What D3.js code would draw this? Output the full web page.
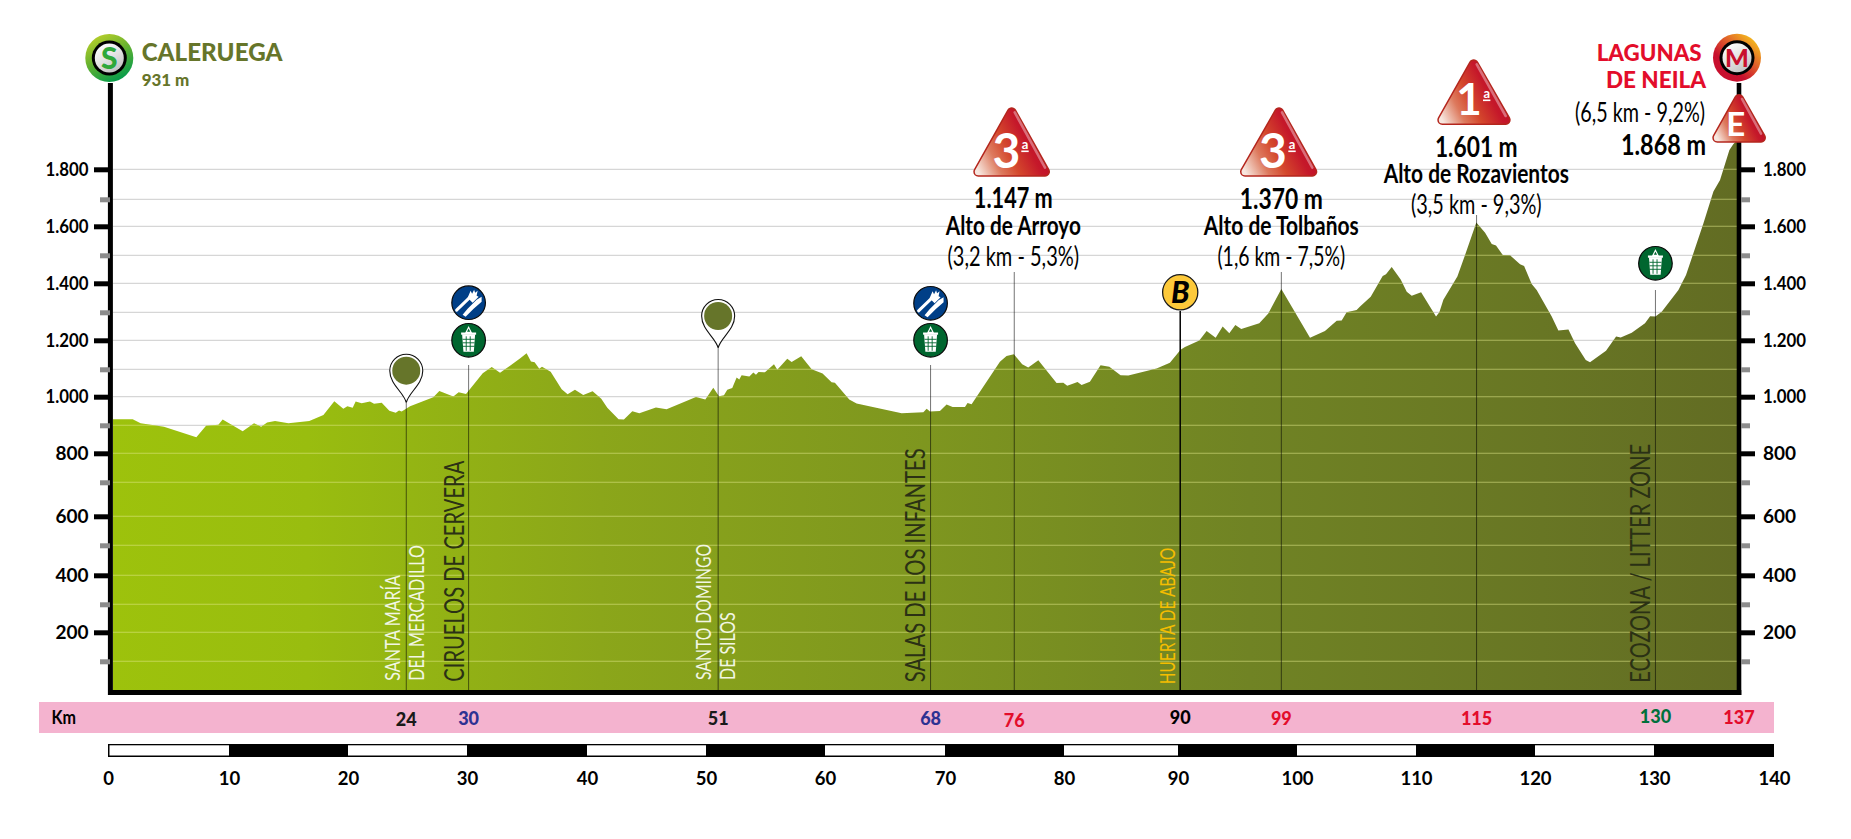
<!DOCTYPE html>
<html><head><meta charset="utf-8">
<script src="https://cdn.jsdelivr.net/npm/d3@7/dist/d3.min.js"></script>
<style>html,body{margin:0;padding:0;background:#fff}svg{display:block}
text{font-family:Lato,"Open Sans",sans-serif}</style></head><body>
<svg id="c" width="1851" height="839"></svg>
<script>
// ---------- data ----------
const distanceKm=[0,1.66,2.33,4.3,7.03,7.85,8.89,9.25,10.94,11.9,12.5,13,13.67,14.8,16.56,17.75,18.67,19.43,19.77,20.22,20.47,20.98,21.68,22.02,22.67,23.31,23.85,24.13,24.35,25.06,27.02,27.53,28.71,29.16,29.78,31.19,31.95,32.65,34.33,34.89,35.26,35.57,35.96,36.19,36.92,37.85,38.35,38.97,39.67,40.46,41.19,41.7,42.65,43.1,43.81,44.4,45.8,46.7,49.18,49.97,50.64,51.12,51.54,51.82,52.24,52.61,52.83,53.03,53.68,54.02,54.24,54.46,55,55.76,56.04,56.88,57.25,58.06,58.94,59.86,60.62,60.9,62.11,62.73,66.53,68.36,68.64,68.92,69.76,70.32,70.83,71.87,72.09,72.43,74.82,75.38,76,76.7,77.21,78.06,79.6,80.17,80.5,81.37,81.71,82.41,83.31,84.05,85,85.65,88.04,89.16,90.06,90.43,91.64,92.26,93.02,93.61,94.17,94.68,95.18,96.7,97.46,98.56,100.98,102.24,103.23,103.65,104.07,104.91,105.2,106.1,107.11,107.39,107.87,108.63,109.14,109.56,110.35,111.61,111.89,112.23,113.41,114.06,115.01,115.75,116.31,116.67,117.24,117.85,118.7,119.04,119.68,120.1,121.37,121.93,122.78,123.34,124.24,124.6,125.95,126.8,127.19,128.12,129.24,129.67,130.12,130.65,132.06,132.7,133.32,134.17,135.01,135.57,136.36,136.7,137];
const elevationM=[921,921,907,895,857,898,902,920,879,907,895,910,915,907,915,936,984,958,967,961,983,977,983,975,979,951,944,952,948,967,998,1021,1001,1016,1010,1086,1108,1087,1137,1155,1127,1124,1102,1109,1091,1027,1009,1025,1006,1020,993,961,921,920,949,942,962,956,999,990,1033,1002,1005,1025,1032,1070,1063,1078,1074,1088,1080,1090,1089,1117,1098,1136,1125,1145,1100,1085,1053,1051,990,976,942,946,958,948,950,973,964,964,978,974,1126,1146,1152,1117,1106,1131,1050,1051,1040,1054,1043,1055,1114,1109,1078,1077,1103,1123,1167,1177,1199,1233,1209,1249,1225,1255,1240,1261,1296,1380,1209,1233,1270,1271,1300,1308,1320,1354,1426,1432,1458,1414,1371,1357,1369,1285,1300,1343,1424,1501,1614,1578,1539,1534,1501,1500,1468,1462,1398,1377,1285,1235,1239,1190,1132,1124,1164,1214,1210,1227,1261,1286,1285,1302,1377,1430,1507,1611,1726,1764,1864,1884,1896];
const majorTicks=[200,400,600,800,1000,1200,1400,1600,1800];
const minorTicks=[100,300,500,700,900,1100,1300,1500,1700];
const rulerTicks=[0,10,20,30,40,50,60,70,80,90,100,110,120,130,140];
const stopKm=[24.74,30,51.05,68.97,76.03,90.03,98.56,115.03,130.12];
const stopLabels=["24","30","51","68","76","90","99","115","130"];
const finishKm=137, finishLabel="137";
const startName="CALERUEGA", startAlt="931 m";
const finishName=["LAGUNAS","DE NEILA"], finishGrade="(6,5 km - 9,2%)", finishAlt="1.868 m";
const climbAlts=["1.147 m","1.370 m","1.601 m"];
const climbNames=["Alto de Arroyo","Alto de Tolbaños","Alto de Rozavientos"];
const climbGrades=["(3,2 km - 5,3%)","(1,6 km - 7,5%)","(3,5 km - 9,3%)"];
const climbCats=["3","3","1"];

// ---------- scales ----------
const yVals=d3.range(0,2000,100);
const yPix=[690,661.3,632.3,604.3,575.3,545.3,516.3,482.3,453.3,425.3,396.7,369.3,340.3,312.3,283.3,255.3,226.3,199.3,169.3,139.3];
const y=d3.scaleLinear().domain(yVals).range(yPix);
const x=d3.scaleLinear().domain([0,137]).range([113,1737]);
const xr=d3.scaleLinear().domain(rulerTicks).range([108,229,348,467,587,706,825,945,1064,1178,1297,1416,1535,1654,1774]);
const svg=d3.select("#c");
const defs=svg.append("defs");
const L=113,R=1737,BASE=690;
const points=distanceKm.map((d,i)=>[d,elevationM[i]]);

function lin(id,x1,y1,x2,y2,stops,user){
  const g=defs.append("linearGradient").attr("id",id).attr("x1",x1).attr("y1",y1).attr("x2",x2).attr("y2",y2);
  if(user)g.attr("gradientUnits","userSpaceOnUse");
  stops.forEach(s=>g.append("stop").attr("offset",s[0]).attr("stop-color",s[1]));
}
lin("area",L,0,R,0,[[0,"#9dc20c"],[.12,"#99bd0f"],[.3,"#8ba61a"],[.5,"#7e961f"],[.7,"#708324"],[.88,"#687624"],[1,"#626c23"]],true);
lin("tri",0,1,1,.55,[[0,"#f7e6de"],[.28,"#dd7a5e"],[.5,"#d4482c"],[.78,"#c5182a"],[1,"#bf0d26"]]);
lin("ringS",.2,0,.7,1,[[0,"#bdd02a"],[.45,"#69b32f"],[1,"#009a4c"]]);
lin("ringM",.9,.1,.2,.9,[[0,"#f6c21d"],[.4,"#e0602a"],[.75,"#c8102e"],[1,"#c8102e"]]);
lin("disc",.2,0,.8,1,[[0,"#fff"],[.5,"#e2e2e2"],[1,"#bfbfbf"]]);

// ---------- grid, area ----------
const gridVals=d3.range(100,1900,100);
svg.append("g").selectAll("line").data(gridVals).join("line")
  .attr("x1",L).attr("x2",R).attr("y1",d=>y(d)).attr("y2",d=>y(d))
  .attr("stroke","#d6d6d6").attr("stroke-width",1.3);
const area=d3.area().x(d=>x(d[0])).y0(y(0)).y1(d=>y(d[1])).curve(d3.curveLinear);
svg.append("path").attr("d",area(points)).attr("fill","url(#area)");
defs.append("clipPath").attr("id","clipA").append("path").attr("d",area(points));
svg.append("g").attr("clip-path","url(#clipA)").selectAll("line").data(gridVals).join("line")
  .attr("x1",L).attr("x2",R).attr("y1",d=>y(d)).attr("y2",d=>y(d))
  .attr("stroke","#e4ea8c").attr("stroke-opacity",.55).attr("stroke-width",1.1);

// ---------- vertical stop lines ----------
const stopTops=[403,365,348,365,272,311,272,215,290];
svg.append("g").selectAll("line").data(stopKm).join("line")
  .attr("x1",d=>x(d)).attr("x2",d=>x(d)).attr("y1",(d,i)=>stopTops[i]).attr("y2",BASE)
  .attr("stroke","#000").attr("stroke-opacity",(d,i)=>i===5?1:.55).attr("stroke-width",(d,i)=>i===5?1.5:1);

// ---------- axes ----------
const ax=svg.append("g");
ax.append("line").attr("x1",110.4).attr("x2",110.4).attr("y1",83).attr("y2",695).attr("stroke","#000").attr("stroke-width",5);
ax.append("line").attr("x1",1739).attr("x2",1739).attr("y1",83).attr("y2",695).attr("stroke","#000").attr("stroke-width",4.6);
ax.append("line").attr("x1",108).attr("x2",1741.3).attr("y1",692.5).attr("y2",692.5).attr("stroke","#000").attr("stroke-width",5);
const fmt=d3.formatLocale({decimal:",",thousands:".",grouping:[3],currency:["",""]}).format(",");
function styleAxis(g,col,w){
  g.select(".domain").remove();
  g.selectAll("line").attr("stroke",col).attr("stroke-width",w);
  g.selectAll("text").attr("fill","#000").attr("font-family","Lato").attr("font-weight",700).attr("font-size",19)
    .each(function(d){ if(d>=1000) d3.select(this).attr("textLength",43).attr("lengthAdjust","spacingAndGlyphs"); });
}
ax.append("g").attr("transform","translate(110,0)").call(d3.axisLeft(y).tickValues(minorTicks).tickSize(10).tickFormat("")).call(g=>styleAxis(g,"#8c8c8c",5));
ax.append("g").attr("transform","translate(1741,0)").call(d3.axisRight(y).tickValues(minorTicks).tickSize(9).tickFormat("")).call(g=>styleAxis(g,"#8c8c8c",5));
ax.append("g").attr("transform","translate(108,0)").call(d3.axisLeft(y).tickValues(majorTicks).tickSize(14).tickPadding(5.5).tickFormat(fmt)).call(g=>styleAxis(g,"#000",5));
ax.append("g").attr("transform","translate(1741,0)").call(d3.axisRight(y).tickValues(majorTicks).tickSize(14).tickPadding(8).tickFormat(fmt)).call(g=>styleAxis(g,"#000",5));

// ---------- text helper ----------
function T(s,px,py,o={}){
  const t=svg.append("text").text(s).attr("x",px).attr("y",py)
    .attr("font-family",o.font||"Lato").attr("font-weight",o.w||400).attr("font-size",o.size||18)
    .attr("fill",o.fill||"#000").attr("text-anchor",o.anchor||"start");
  if(o.len)t.attr("textLength",o.len).attr("lengthAdjust","spacingAndGlyphs");
  if(o.rot)t.attr("transform",`rotate(-90 ${px} ${py})`);
  return t;
}
const NARROW='"Liberation Sans Narrow","Roboto",sans-serif';

// ---------- km band ----------
svg.append("rect").attr("x",39).attr("y",702).attr("width",1735).attr("height",31).attr("fill","#f4b3cf");
T("Km",51.5,724,{w:700,size:18,len:24.5});
const stopColors=["#1a1a1a","#2e3192","#1a1a1a","#2e3192","#e30d2b","#000","#e30d2b","#e30d2b","#00703c"];
const stopBase=[725.5,725,725,725,727,724,725,725,723];
stopKm.forEach((k,i)=>T(stopLabels[i],x(k),stopBase[i],{w:900,size:18,anchor:"middle",fill:stopColors[i]}));
T(finishLabel,x(finishKm)+2,723.5,{w:900,size:18,anchor:"middle",fill:"#e30d2b"});

// ---------- ruler ----------
const segs=d3.range(0,140,10);
svg.append("rect").attr("x",xr(0)).attr("y",744).attr("width",xr(140)-xr(0)).attr("height",13).attr("fill","#000");
svg.append("g").selectAll("rect").data(segs.filter(d=>d%20===0)).join("rect")
  .attr("x",d=>xr(d)+(d===0?1.5:0)).attr("y",745.3).attr("height",10.2)
  .attr("width",d=>xr(d+10)-xr(d)-(d===0?1.5:0)).attr("fill","#fff");
svg.append("g").attr("transform","translate(0,757)")
  .call(d3.axisBottom(xr).tickValues(rulerTicks).tickSize(0).tickPadding(15).tickFormat(d3.format("d")))
  .call(g=>{g.select(".domain").remove();g.selectAll("text").attr("fill","#000").attr("font-family","Lato").attr("font-weight",700).attr("font-size",18.5);});

// ---------- vertical place names ----------
const W="#f2f6e4",D="#2b3114";
T("SANTA MARÍA",400,680.7,{font:NARROW,size:22,fill:W,rot:1,len:105.7});
T("DEL MERCADILLO",424,680.7,{font:NARROW,size:22,fill:W,rot:1,len:135.7});
T("CIRUELOS DE CERVERA",463.8,681.7,{font:NARROW,size:26,fill:D,rot:1,len:221});
T("SANTO DOMINGO",711.2,680,{font:NARROW,size:22,fill:W,rot:1,len:136});
T("DE SILOS",735,680,{font:NARROW,size:22,fill:W,rot:1,len:67.7});
T("SALAS DE LOS INFANTES",925,682.3,{font:NARROW,size:26,fill:D,rot:1,len:234});
T("HUERTA DE ABAJO",1175,684.3,{font:NARROW,size:22,fill:"#f5bd00",rot:1,len:136.7});
T("ECOZONA / LITTER ZONE",1650,682.7,{font:NARROW,size:26,fill:D,rot:1,len:238.7});

// ---------- climb triangles ----------
function tri(cx,top,l,r,bot,label,lx,base,fs,ax_,ay_){
  const pts=[[cx,top+5],[r-5,bot-5],[l+5,bot-5]];
  const d="M"+pts.map(p=>p.join(",")).join("L")+"Z";
  svg.append("path").attr("d",d).attr("fill","#b4261d").attr("stroke","#b4261d").attr("stroke-width",10).attr("stroke-linejoin","round");
  svg.append("path").attr("d",d).attr("fill","url(#tri)").attr("stroke","url(#tri)").attr("stroke-width",7).attr("stroke-linejoin","round");
  svg.append("line").attr("x1",cx+3).attr("y1",top+5).attr("x2",r-5).attr("y2",bot-9).attr("stroke","#fff").attr("stroke-opacity",.38).attr("stroke-width",2.6).attr("stroke-linecap","round");
  T(label,lx,base,{w:700,size:fs,anchor:"middle",fill:"#fff"});
  if(ax_){T("a",ax_,ay_,{w:700,size:13,anchor:"middle",fill:"#fff"});
    svg.append("rect").attr("x",ax_-3.7).attr("y",ay_+1.5).attr("width",7.4).attr("height",1.6).attr("fill","#fff");}
}
tri(1011.7,107.3,973.3,1050,176.7,climbCats[0],1006.5,168.3,48,1025,149);
tri(1279,107.3,1240,1317.3,176.7,climbCats[1],1273,168.3,48,1292,149);
tri(1473.7,59.3,1437.3,1510.7,125,climbCats[2],1469,115,44,1486.7,98);
tri(1739,94,1712.3,1766,142.7,"E",1735.7,135.7,33);

const cxs=[1013.3,1281.3,1476.3],b0=[208.3,209,156.7],b1=[235,235,182.7],b2=[266,266,214];
const w0=[79,83,82.7],w1=[135,155,185.3],w2=[131.7,127.7,130.7];
climbAlts.forEach((s,i)=>{
  T(s,cxs[i],b0[i],{font:NARROW,w:700,size:28,anchor:"middle",len:w0[i]});
  T(climbNames[i],cxs[i],b1[i],{font:NARROW,w:700,size:26,anchor:"middle",len:w1[i]});
  T(climbGrades[i],cxs[i],b2[i],{font:NARROW,size:26,anchor:"middle",len:w2[i]});
});
T(finishGrade,1705,121.7,{font:NARROW,size:26,anchor:"end",len:130});
T(finishAlt,1706,155,{font:NARROW,w:700,size:28,anchor:"end",len:85});
T(finishName[0],1701.7,60.7,{font:"Lato",w:900,size:23,fill:"#e30d2b",anchor:"end",len:105});
T(finishName[1],1706,88.3,{font:"Lato",w:900,size:23,fill:"#e30d2b",anchor:"end",len:100});
T(startName,141.7,61,{font:"Lato",w:900,size:24,fill:"#66752a",len:140.7});
T(startAlt,141.7,85.7,{font:"Lato",w:900,size:17,fill:"#66752a",len:47.7});

// ---------- start / finish badges ----------
function badge(cx,cy,ring,letter,col,fs,by){
  svg.append("circle").attr("cx",cx).attr("cy",cy).attr("r",24).attr("fill",`url(#${ring})`);
  svg.append("circle").attr("cx",cx).attr("cy",cy).attr("r",17.5).attr("fill","#000");
  svg.append("circle").attr("cx",cx).attr("cy",cy).attr("r",14.5).attr("fill","url(#disc)");
  T(letter,cx,by,{w:900,size:fs,fill:col,anchor:"middle"});
}
badge(109.3,58,"ringS","S","#2fa83a",30,68.5);
badge(1737,57.7,"ringM","M","#c8102e",25,66.5);

// ---------- pins ----------
function pin(cx,cy){
  const r=16.5,tip=32;
  svg.append("path").attr("d",`M${cx},${cy+tip} C${cx-2},${cy+22} ${cx-16.5},${cy+14} ${cx-r},${cy} A${r},${r} 0 1 1 ${cx+r},${cy} C${cx+16.5},${cy+14} ${cx+2},${cy+22} ${cx},${cy+tip}Z`)
    .attr("fill","#fff").attr("stroke","#111").attr("stroke-width",1.1);
  svg.append("circle").attr("cx",cx).attr("cy",cy).attr("r",14).attr("fill","#66752a");
}
pin(x(stopKm[0]),370.7);
pin(x(stopKm[2]),316);

// ---------- icons ----------
function dining(cx,cy){
  const g=svg.append("g").attr("transform",`translate(${cx},${cy})`);
  g.append("circle").attr("r",16.8).attr("fill","#003f87").attr("stroke","#0b0b0b").attr("stroke-width",1.2);
  g.append("line").attr("x1",-12).attr("y1",7.5).attr("x2",2).attr("y2",-6).attr("stroke","#fff").attr("stroke-width",3).attr("stroke-linecap","round");
  g.append("path").attr("d","M-1,-5 L2,-12 L3.5,-9 L5.5,-13 L6.5,-10 L9,-12 L8,-7 L10,-6 L4,0Z").attr("fill","#fff");
  g.append("path").attr("d","M-6,12 L-3,14 L5,6 L13,-1 L13,-6 L8,-3 L-1,6 Z").attr("fill","#fff");
}
function trash(cx,cy){
  const g=svg.append("g").attr("transform",`translate(${cx},${cy})`);
  g.append("circle").attr("r",16.8).attr("fill","#00662f").attr("stroke","#0b0b0b").attr("stroke-width",1.2);
  g.append("path").attr("d","M-6.5,-6 L6.5,-6 L5.2,11.5 L-5.2,11.5Z").attr("fill","#fff");
  g.append("rect").attr("x",-7.5).attr("y",-7.8).attr("width",15).attr("height",2.2).attr("fill","#fff");
  g.append("path").attr("d","M-2.5,-8 L0,-13 L2.5,-8Z").attr("fill","none").attr("stroke","#fff").attr("stroke-width",1.2);
  [-2.4,1.6].forEach(v=>g.append("line").attr("x1",v).attr("x2",v).attr("y1",-4).attr("y2",10.5).attr("stroke","#00662f").attr("stroke-width",.9));
  [-1,2.5,6].forEach(v=>g.append("line").attr("x1",-6).attr("x2",6).attr("y1",v).attr("y2",v).attr("stroke","#00662f").attr("stroke-width",.9));
}
dining(x(stopKm[1]),302.7);trash(x(stopKm[1]),340.3);
dining(x(stopKm[3]),303.3);trash(x(stopKm[3]),340.3);
trash(x(stopKm[8]),263.3);

// ---------- B badge ----------
svg.append("circle").attr("cx",x(stopKm[5])).attr("cy",292.3).attr("r",17.6).attr("fill","#fdc93a").attr("stroke","#1a1a1a").attr("stroke-width",1.3);
T("B",x(stopKm[5]),303,{w:900,size:30,anchor:"middle"}).attr("font-style","italic");
</script></body></html>
